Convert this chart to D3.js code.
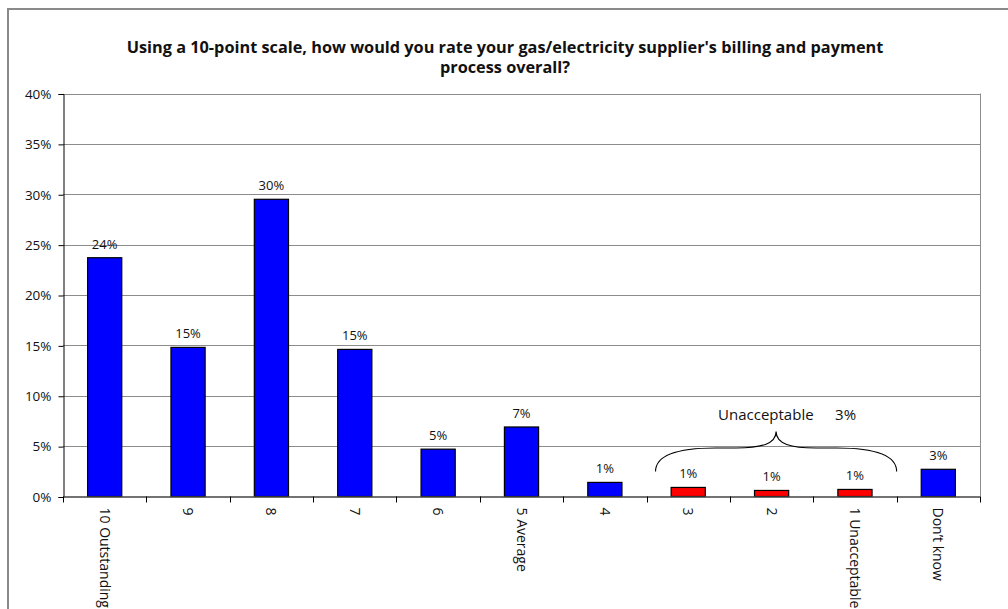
<!DOCTYPE html>
<html>
<head>
<meta charset="utf-8">
<script src="https://cdn.jsdelivr.net/npm/d3@7"></script>
<style>
  html, body { margin: 0; padding: 0; background: #fff; }
  svg { display: block; }
  text { font-family: "Open Sans", Lato, sans-serif; fill: #111; }
</style>
</head>
<body>
<svg id="chart" width="1008" height="609"></svg>
<script>
// Survey answers: share of respondents per rating
const categories = ["10 Outstanding", "9", "8", "7", "6", "5 Average", "4", "3", "2", "1 Unacceptable", "Don\u2019t know"];
const values = [23.7, 14.8, 29.5, 14.6, 4.7, 6.9, 1.4, 0.9, 0.6, 0.7, 2.7];
const unacceptable = ["3", "2", "1 Unacceptable"];
const unacceptableTotal = 3;
const yTicks = [0, 5, 10, 15, 20, 25, 30, 35, 40];
const titleLines = [
  "Using a 10-point scale, how would you rate your gas/electricity supplier's billing and payment",
  "process overall?"
];

const svg = d3.select("#chart");
const W = 1008, H = 609;
const plot = { left: 63, right: 980, top: 93.5, bottom: 496.5 };
const FONT = "'Open Sans', Lato, sans-serif";

// Outer frame (runs off the right and bottom edges)
svg.append("rect")
  .attr("x", 8).attr("y", 9)
  .attr("width", W + 10).attr("height", H + 10)
  .attr("fill", "none").attr("stroke", "#8a8a8a").attr("stroke-width", 2);

// Title
svg.append("g").selectAll("text")
  .data(titleLines).join("text")
  .attr("x", 505).attr("y", (d, i) => 53 + i * 20)
  .attr("text-anchor", "middle")
  .attr("font-size", 16.3).attr("font-weight", "bold")
  .text(d => d);

const x = d3.scaleBand().domain(categories).range([plot.left, plot.right]).paddingInner(0).paddingOuter(0);
const y = d3.scaleLinear().domain([0, 40]).range([plot.bottom, plot.top]);

// Horizontal gridlines
svg.append("g").selectAll("line")
  .data(yTicks.filter(t => t > 0)).join("line")
  .attr("x1", plot.left).attr("x2", plot.right)
  .attr("y1", d => Math.round(y(d)) + 0.5).attr("y2", d => Math.round(y(d)) + 0.5)
  .attr("stroke", "#8c8c8c").attr("stroke-width", 1);

// Right edge of the plot area
svg.append("line")
  .attr("x1", plot.right + 0.5).attr("x2", plot.right + 0.5)
  .attr("y1", y(40)).attr("y2", y(0))
  .attr("stroke", "#8c8c8c");

// Y axis
const yAxis = d3.axisLeft(y).tickValues(yTicks).tickSize(5).tickPadding(7).tickFormat(d => d + "%");
const gy = svg.append("g").attr("transform", `translate(${plot.left + 0.5},0.5)`).call(yAxis);
gy.select(".domain").attr("stroke", "#000");
gy.selectAll(".tick line").attr("stroke", "#000");
gy.selectAll(".tick text").attr("font-size", 13.5).attr("font-family", FONT).attr("fill", "#111");

// Bars
const barW = x.bandwidth() * 0.41;
svg.append("g").selectAll("rect")
  .data(categories).join("rect")
  .attr("x", (d) => x(d) + (x.bandwidth() - barW) / 2)
  .attr("y", (d, i) => y(values[i]))
  .attr("width", barW)
  .attr("height", (d, i) => y(0) - y(values[i]))
  .attr("fill", d => unacceptable.includes(d) ? "#ff0000" : "#0000ff")
  .attr("stroke", "#000").attr("stroke-width", 1.2);

// Value labels
svg.append("g").selectAll("text")
  .data(categories).join("text")
  .attr("x", d => x(d) + x.bandwidth() / 2)
  .attr("y", (d, i) => y(values[i]) - 9)
  .attr("text-anchor", "middle")
  .attr("font-size", 13)
  .text((d, i) => Math.round(values[i]) + "%");

// X axis line and ticks at the category boundaries
svg.append("line")
  .attr("x1", plot.left).attr("x2", plot.right)
  .attr("y1", y(0) + 0.5).attr("y2", y(0) + 0.5)
  .attr("stroke", "#444").attr("stroke-width", 1.5);
const bounds = categories.map(d => x(d)).concat([x.range()[1]]);
svg.append("g").selectAll("line")
  .data(bounds).join("line")
  .attr("x1", d => Math.round(d) + 0.5).attr("x2", d => Math.round(d) + 0.5)
  .attr("y1", y(0)).attr("y2", y(0) + 6)
  .attr("stroke", "#000");

// Category labels, rotated to read downward
svg.append("g").selectAll("text")
  .data(categories).join("text")
  .attr("transform", d => `translate(${x(d) + x.bandwidth() / 2 - 5},${y(0) + 11}) rotate(90)`)
  .attr("font-size", 14)
  .text(d => d);

// Brace grouping the unacceptable ratings
const bx0 = x(unacceptable[0]) + 9;
const bx1 = x(unacceptable[unacceptable.length - 1]) + x.bandwidth();
const bmid = (bx0 + bx1) / 2;
const byEnd = 471.5, byMid = 448, byTip = 431.5;
const brace = d3.path();
brace.moveTo(bx0, byEnd);
brace.bezierCurveTo(bx0, byMid + 4, bx0 + 30, byMid, bx0 + 60, byMid);
brace.lineTo(bmid - 40, byMid);
brace.bezierCurveTo(bmid - 15, byMid, bmid, byMid - 4, bmid, byTip);
brace.bezierCurveTo(bmid, byMid - 4, bmid + 15, byMid, bmid + 40, byMid);
brace.lineTo(bx1 - 60, byMid);
brace.bezierCurveTo(bx1 - 30, byMid, bx1, byMid + 4, bx1, byEnd);
svg.append("path").attr("d", brace.toString())
  .attr("fill", "none").attr("stroke", "#000").attr("stroke-width", 1.1);

svg.append("text")
  .attr("x", bmid - 58).attr("y", 420)
  .attr("font-size", 15)
  .text("Unacceptable");
svg.append("text")
  .attr("x", bmid + 59).attr("y", 420)
  .attr("font-size", 15)
  .text(unacceptableTotal + "%");
</script>
</body>
</html>
